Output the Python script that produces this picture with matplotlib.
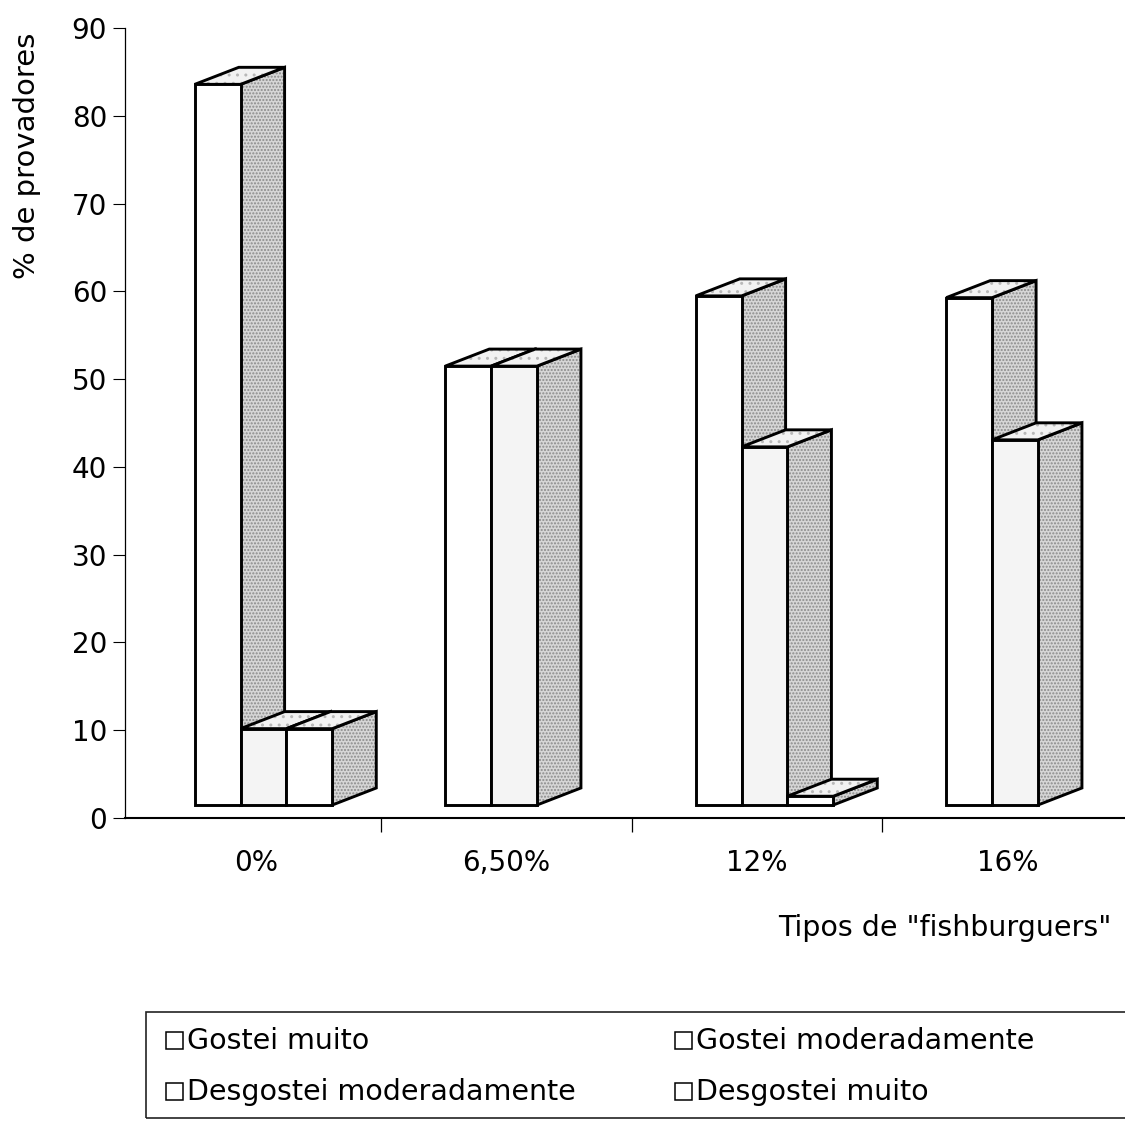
import matplotlib
matplotlib.use("Agg")
import matplotlib.pyplot as plt
from matplotlib.patches import Polygon, Rectangle

# ---- data -------------------------------------------------------------
categories = ["0%", "6,50%", "12%", "16%"]
series_names = ["Gostei muito", "Gostei moderadamente",
                "Desgostei moderadamente", "Desgostei muito"]
gostei_muito = [82.1, 50.0, 58.0, 57.8]
gostei_moderadamente = [8.7, 50.0, 40.8, 41.6]
desgostei_moderadamente = [8.7, 0.0, 1.0, 0.0]
desgostei_muito = [0.0, 0.0, 0.0, 0.0]
y_ticks = [0, 10, 20, 30, 40, 50, 60, 70, 80, 90]

series = [gostei_muito, gostei_moderadamente, desgostei_moderadamente, desgostei_muito]

# ---- figure -----------------------------------------------------------
plt.rcParams['font.family'] = ['DejaVu Sans']
plt.rcParams['hatch.linewidth'] = 1.0
W, H = 1125, 1123
fig = plt.figure(figsize=(W / 100, H / 100), dpi=100)
fig.patch.set_facecolor('white')
ax = fig.add_axes([125 / W, 1 - 818 / H, 1000 / W, 790 / H])
ax.set_xlim(-0.522, 3.470)
ax.set_ylim(0, 90)
ax.set_facecolor('white')

# pseudo-3D column geometry (data units)
FLOOR = 1.48      # columns stand slightly above the category axis
BAR_W = 0.183
SLOT0 = -0.2435   # left edge of first column relative to category centre
DX, DY = 0.1756, 1.94   # receding depth of top and side faces

front_fill = ['white', '#f4f4f4', 'white', 'white']
EDGE_LW = 2.1


def face(pts, fc, hatch, hatch_col, z):
    if hatch:
        ax.add_patch(Polygon(pts, closed=True, facecolor=fc, hatch=hatch,
                             edgecolor=hatch_col, linewidth=0, zorder=z,
                             clip_on=False))
    else:
        ax.add_patch(Polygon(pts, closed=True, facecolor=fc, linewidth=0,
                             zorder=z, clip_on=False))
    ax.add_patch(Polygon(pts, closed=True, fill=False, edgecolor='black',
                         linewidth=EDGE_LW, joinstyle='miter', zorder=z + 0.001,
                         clip_on=False))


order = 0
for ci in range(len(categories)):
    for si, vals in enumerate(series):
        v = vals[ci]
        if v <= 0:
            continue
        z = 2 + order * 0.01
        order += 1
        x0 = ci + SLOT0 + si * BAR_W
        x1 = x0 + BAR_W
        y0 = FLOOR
        y1 = FLOOR + v
        # side face
        face([(x1, y0), (x1 + DX, y0 + DY), (x1 + DX, y1 + DY), (x1, y1)],
             '#d6d6d6', '.....', '#8a8a8a', z)
        # top face
        face([(x0, y1), (x1, y1), (x1 + DX, y1 + DY), (x0 + DX, y1 + DY)],
             '#f2f2f2', '..', '#b8b8b8', z + 0.002)
        # front face
        ax.bar(x0, v, width=BAR_W, bottom=FLOOR, align='edge',
               color=front_fill[si], edgecolor='black', linewidth=EDGE_LW,
               zorder=z + 0.004, clip_on=False)

# ---- axes styling -----------------------------------------------------
for s in ('top', 'right'):
    ax.spines[s].set_visible(False)
ax.spines['left'].set_linewidth(0.9)
ax.spines['bottom'].set_linewidth(1.5)

ax.set_yticks(y_ticks)
ax.set_yticklabels([str(t) for t in y_ticks], fontsize=20)
ax.tick_params(axis='y', direction='out', length=8.6, width=0.8, pad=4.3)

ax.set_xticks(range(len(categories)))
ax.set_xticklabels(categories, fontsize=20)
ax.tick_params(axis='x', which='major', length=0, pad=22)
ax.set_xticks([i + 0.5 for i in range(len(categories) - 1)], minor=True)
ax.tick_params(axis='x', which='minor', direction='out', length=10, width=0.9)

fig.text(27 / W, 1 - 33 / H, "% de provadores", rotation=90,
         ha='center', va='top', fontsize=21)
fig.text(1112 / W, 1 - 936 / H, 'Tipos de "fishburguers"',
         ha='right', va='baseline', fontsize=20.5)

# ---- legend -----------------------------------------------------------
fig.add_artist(Rectangle((146 / W, 1 - 1118 / H), (1300 - 146) / W, 106 / H,
                         transform=fig.transFigure, fill=False,
                         edgecolor='#222222', linewidth=1.2, clip_on=False))
col_x = [166, 675]
row_base = [1049, 1100]
SQ = 17
for i, name in enumerate(series_names):
    cx = col_x[i % 2]
    by = row_base[i // 2]
    fig.add_artist(Rectangle((cx / W, 1 - by / H), SQ / W, SQ / H,
                             transform=fig.transFigure, facecolor='white',
                             edgecolor='black', linewidth=1.1))
    fig.text((cx + SQ + 4) / W, 1 - by / H, name, ha='left', va='baseline',
             fontsize=20.5)

fig.savefig("out.png", dpi=100, facecolor='white')
